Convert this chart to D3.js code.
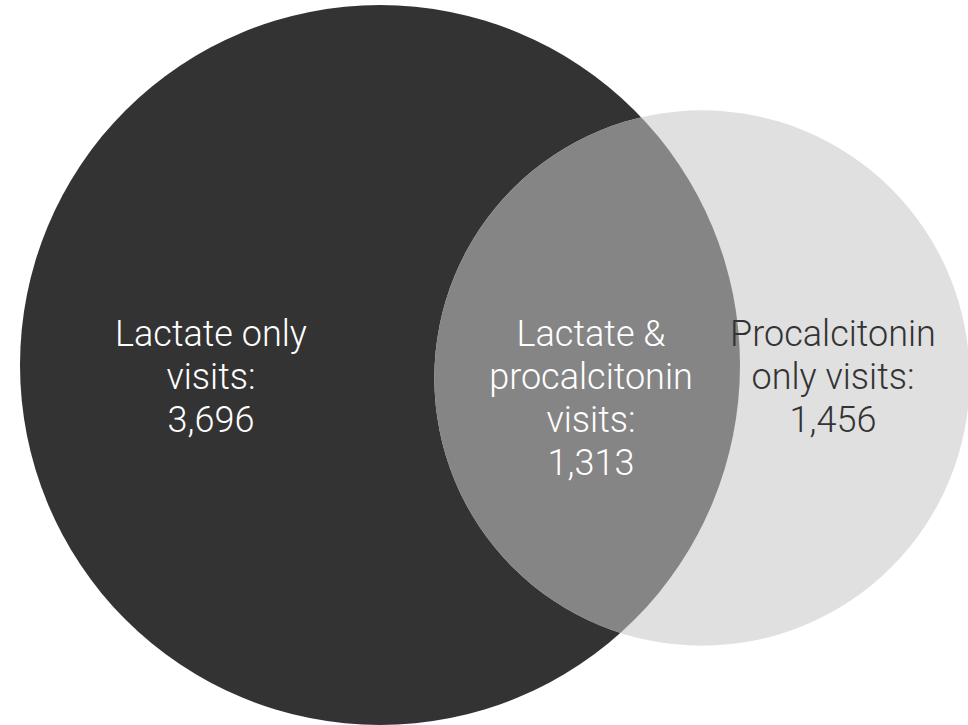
<!DOCTYPE html>
<html>
<head>
<meta charset="utf-8">
<script src="https://cdn.jsdelivr.net/npm/d3@7"></script>
<style>
  html, body { margin: 0; padding: 0; background: #fff; }
  svg { display: block; }
</style>
</head>
<body>
<svg id="chart" width="968" height="725"></svg>
<script>
// Visit counts per region of the Venn diagram
const regions = ["Lactate only", "Lactate & procalcitonin", "Procalcitonin only"];
const regionCounts = [3696, 1313, 1456];
const regionLabels = [
  ["Lactate only", "visits:"],
  ["Lactate &", "procalcitonin", "visits:"],
  ["Procalcitonin", "only visits:"]
];

// Set totals derived from the region counts
const setNames = ["Lactate", "Procalcitonin"];
const setTotals = [regionCounts[0] + regionCounts[1], regionCounts[2] + regionCounts[1]];

const W = 968, H = 725;
const svg = d3.select("#chart");

// Circle area proportional to set size
const radius = d3.scaleSqrt().domain([0, d3.max(setTotals)]).range([0, 360]);

const circles = [
  { name: setNames[0], cx: 380, cy: 365, r: radius(setTotals[0]), fill: "#333333" },
  { name: setNames[1], cx: 702, cy: 378, r: radius(setTotals[1]), fill: "#e0e0e0" }
];

const defs = svg.append("defs");
defs.append("clipPath").attr("id", "clip-lactate")
  .append("circle")
  .attr("cx", circles[0].cx).attr("cy", circles[0].cy).attr("r", circles[0].r);

svg.selectAll("circle.set")
  .data(circles)
  .join("circle")
  .attr("class", "set")
  .attr("cx", d => d.cx)
  .attr("cy", d => d.cy)
  .attr("r", d => d.r)
  .attr("fill", d => d.fill);

// Overlap region
svg.append("circle")
  .attr("cx", circles[1].cx).attr("cy", circles[1].cy).attr("r", circles[1].r)
  .attr("clip-path", "url(#clip-lactate)")
  .attr("fill", "#858585");

const fmt = d3.format(",");
const labelPos = [
  { x: 211, y: 346, color: "#ffffff" },
  { x: 591, y: 346, color: "#ffffff" },
  { x: 833, y: 346, color: "#333333" }
];
const lineH = 43;

regions.forEach((name, i) => {
  const lines = regionLabels[i].concat([fmt(regionCounts[i])]);
  const t = svg.append("text")
    .attr("text-anchor", "middle")
    .attr("font-family", "Roboto, 'Noto Sans', sans-serif")
    .attr("font-weight", 300)
    .attr("font-size", 36)
    .attr("fill", labelPos[i].color);
  lines.forEach((ln, j) => {
    t.append("tspan")
      .attr("x", labelPos[i].x)
      .attr("y", labelPos[i].y + j * lineH)
      .text(ln);
  });
});
</script>
</body>
</html>
